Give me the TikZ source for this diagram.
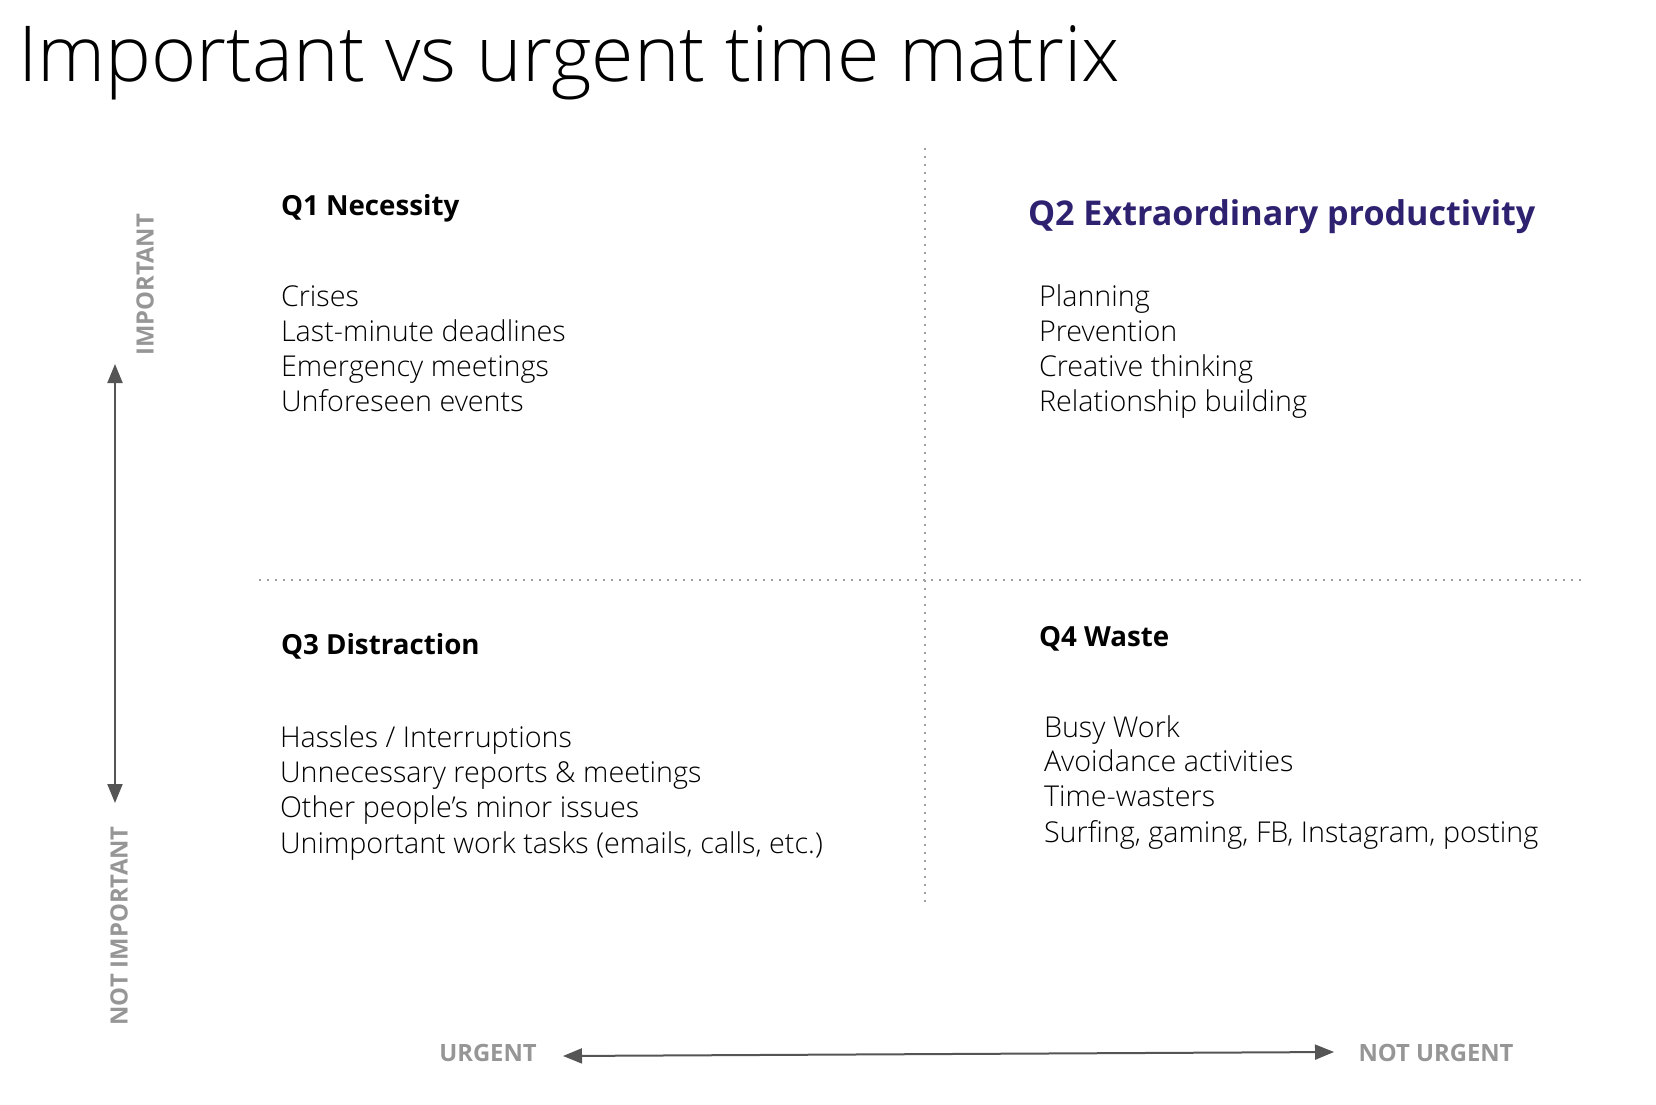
\documentclass[tikz,border=0pt]{standalone}
\usepackage{fontspec}
\setmainfont{Open Sans}
\newfontfamily\oslight{Open Sans Light}
\newcommand\ossemi{\rmfamily\bfseries}
\usetikzlibrary{arrows.meta}
\definecolor{qpurple}{RGB}{46,34,112}
\definecolor{axisgray}{RGB}{85,85,85}
\definecolor{labelgray}{RGB}{150,150,150}
\definecolor{dotgray}{RGB}{160,160,160}
\begin{document}
\begin{tikzpicture}[x=1pt,y=-1pt,
  every node/.style={inner sep=0pt,outer sep=0pt},
  titletext/.style={anchor=base west,font=\oslight\fontsize{77.2}{86}\selectfont},
  headtext/.style={anchor=base west,font=\ossemi\fontsize{27.7}{34}\selectfont},
  q2head/.style={anchor=base west,font=\ossemi\fontsize{34.1}{38}\selectfont,text=qpurple},
  itemtext/.style={anchor=base west,font=\oslight\fontsize{28.7}{32}\selectfont},
  axislabel/.style={font=\ossemi\fontsize{23.8}{26}\selectfont,text=labelgray},
  divider/.style={draw=dotgray,line width=1.6pt,dash pattern=on 1.6pt off 6.4pt},
  axisarrow/.style={draw=axisgray,line width=2pt,{Triangle[length=19pt,width=15pt]}-{Triangle[length=19pt,width=15pt]}}
]
\useasboundingbox[fill=white] (0,0) rectangle (1656,1104);

% title
\node[titletext] (title) at (18,81) {Important vs urgent time matrix};

% dividers
\coordinate (vtop) at (925,148);
\coordinate (vbot) at (925,903);
\coordinate (hleft) at (259,580);
\coordinate (hright) at (1586,580);
\draw[divider] (vtop) -- (vbot);
\draw[divider] (hleft) -- (hright);

% Q1
\node[headtext] (q1h) at (281,215) {Q1 Necessity};
\node[itemtext] (q1a) at (281,306) {Crises};
\node[itemtext] (q1b) at (281,341) {Last-minute deadlines};
\node[itemtext] (q1c) at (281,376) {Emergency meetings};
\node[itemtext] (q1d) at (281,411) {Unforeseen events};

% Q2
\node[q2head] (q2h) at (1028,225) {Q2 Extraordinary productivity};
\node[itemtext] (q2a) at (1039,306) {Planning};
\node[itemtext] (q2b) at (1039,341) {Prevention};
\node[itemtext] (q2c) at (1039,376) {Creative thinking};
\node[itemtext] (q2d) at (1039,411) {Relationship building};

% Q3
\node[headtext] (q3h) at (281,654) {Q3 Distraction};
\node[itemtext] (q3a) at (280,747) {Hassles / Interruptions};
\node[itemtext] (q3b) at (280,782) {Unnecessary reports \& meetings};
\node[itemtext] (q3c) at (280,817) {Other people’s minor issues};
\node[itemtext] (q3d) at (280,853) {Unimportant work tasks (emails, calls, etc.)};

% Q4
\node[headtext] (q4h) at (1039,646) {Q4 Waste};
\node[itemtext] (q4a) at (1044,737) {Busy Work};
\node[itemtext] (q4b) at (1044,771) {Avoidance activities};
\node[itemtext] (q4c) at (1044,806) {Time-wasters};
\node[itemtext] (q4d) at (1044,842) {Surfing, gaming, FB, Instagram, posting};

% vertical axis
\coordinate (vup) at (115,364);
\coordinate (vdown) at (115,803);
\draw[axisarrow] (vup) -- (vdown);
\node[axislabel,rotate=90] (imp) at (145,285) {IMPORTANT};
\node[axislabel,rotate=90] (notimp) at (119,926) {NOT IMPORTANT};

% horizontal axis
\node[axislabel] (urg) at (488,1053) {URGENT};
\node[axislabel] (noturg) at (1436,1053) {NOT URGENT};
\coordinate (hl) at (563,1056);
\coordinate (hr) at (1334,1052);
\draw[axisarrow] (hl) -- (hr);
\end{tikzpicture}
\end{document}
